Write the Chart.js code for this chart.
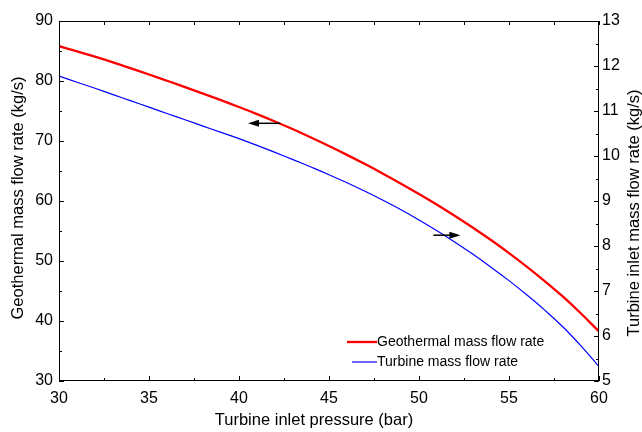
<!DOCTYPE html>
<html lang="en">
<head>
  <meta charset="UTF-8">
  <title>Mass flow rate vs turbine inlet pressure</title>
  <script src="https://cdn.jsdelivr.net/npm/chart.js"></script>
  <style>
    body { margin: 0; background: #fff; }
    .wrap { width: 642px; height: 432px; position: relative; }
  </style>
</head>
<body>
  <div class="wrap"><canvas id="flowChart"></canvas></div>

  <script>
    // turbine inlet pressure (bar)
    const pressure = [30, 31, 32, 33, 34, 35, 36, 37, 38, 39, 40, 41, 42, 43, 44, 45,
                      46, 47, 48, 49, 50, 51, 52, 53, 54, 55, 56, 57, 58, 59, 60];
    // geothermal mass flow rate (kg/s), left axis
    const geothermalFlow = [85.8, 84.95, 84.05, 83.1, 82.1, 81.08, 80.04, 78.98, 77.9, 76.8, 75.67,
                            74.49, 73.25, 71.95, 70.59, 69.17, 67.69, 66.15, 64.55, 62.89, 61.17,
                            59.38, 57.51, 55.55, 53.49, 51.32, 49.03, 46.61, 44.05, 41.25, 38.25];
    // turbine inlet mass flow rate (kg/s), right axis
    const turbineFlow = [11.775, 11.64, 11.505, 11.365, 11.225, 11.085, 10.945, 10.805, 10.665, 10.525, 10.385,
                         10.235, 10.08, 9.92, 9.755, 9.585, 9.405, 9.215, 9.015, 8.805, 8.58,
                         8.34, 8.085, 7.815, 7.53, 7.23, 6.91, 6.57, 6.2, 5.78, 5.32];

    const xTicks = [30, 35, 40, 45, 50, 55, 60];
    const leftTicks = [30, 40, 50, 60, 70, 80, 90];
    const rightTicks = [5, 6, 7, 8, 9, 10, 11, 12, 13];

    // arrows: [x from, x to, value, axis]
    const arrows = [
      [42.3, 40.5, 72.95, 'y'],
      [50.8, 52.3, 8.24, 'y2']
    ];

    const FONT = '"Liberation Sans", Arial, sans-serif';

    const decor = {
      id: 'decor',
      afterDraw(chart) {
        const ctx = chart.ctx;
        const a = chart.chartArea;
        const sx = chart.scales.x, sl = chart.scales.y, sr = chart.scales.y2;
        ctx.save();
        ctx.strokeStyle = '#000';
        ctx.lineWidth = 1;
        ctx.strokeRect(a.left + 0.5, a.top + 0.5, a.right - a.left - 1, a.bottom - a.top - 1);

        ctx.beginPath();
        // inward ticks on all four sides
        for (let v = 30; v <= 60; v += 2.5) {
          const px = Math.round(sx.getPixelForValue(v)) + 0.5;
          const len = v % 5 === 0 ? 5 : 3;
          ctx.moveTo(px, a.bottom); ctx.lineTo(px, a.bottom - len);
          ctx.moveTo(px, a.top); ctx.lineTo(px, a.top + 4);
        }
        for (let v = 30; v <= 90; v += 5) {
          const py = Math.round(sl.getPixelForValue(v)) + 0.5;
          const len = v % 10 === 0 ? 5 : 3;
          ctx.moveTo(a.left, py); ctx.lineTo(a.left + len, py);
        }
        for (let v = 5; v <= 13; v += 0.5) {
          const py = Math.round(sr.getPixelForValue(v)) + 0.5;
          const len = v % 1 === 0 ? 5 : 3;
          ctx.moveTo(a.right, py); ctx.lineTo(a.right - len, py);
        }
        ctx.stroke();

        // arrows
        ctx.fillStyle = '#000';
        ctx.lineWidth = 1.5;
        arrows.forEach(([x0, x1, v, axis]) => {
          const y = chart.scales[axis].getPixelForValue(v);
          const p0 = sx.getPixelForValue(x0), p1 = sx.getPixelForValue(x1);
          const dir = Math.sign(p1 - p0);
          ctx.beginPath();
          ctx.moveTo(p0, y); ctx.lineTo(p1 - dir * 8, y);
          ctx.stroke();
          ctx.beginPath();
          ctx.moveTo(p1, y);
          ctx.lineTo(p1 - dir * 11, y - 3.5);
          ctx.lineTo(p1 - dir * 11, y + 3.5);
          ctx.closePath();
          ctx.fill();
        });

        // axis titles
        ctx.fillStyle = '#000';
        ctx.font = '16.5px ' + FONT;
        ctx.textAlign = 'center';
        ctx.textBaseline = 'middle';
        ctx.fillText('Turbine inlet pressure (bar)', 314, 420);
        ctx.save();
        ctx.translate(18, 198);
        ctx.rotate(-Math.PI / 2);
        ctx.fillText('Geothermal mass flow rate (kg/s)', 0, 0);
        ctx.restore();
        ctx.save();
        ctx.translate(634, 213);
        ctx.rotate(-Math.PI / 2);
        ctx.fillText('Turbine inlet mass flow rate (kg/s)', 0, 0);
        ctx.restore();

        // legend
        ctx.font = '14px ' + FONT;
        ctx.textAlign = 'left';
        chart.data.datasets.forEach((ds, i) => {
          const ly = 342 + i * 20;
          ctx.strokeStyle = ds.borderColor;
          ctx.lineWidth = ds.borderWidth;
          ctx.beginPath();
          ctx.moveTo(347 + i * 5, ly); ctx.lineTo(377, ly);
          ctx.stroke();
          ctx.fillText(ds.label, 377, ly);
        });
        ctx.restore();
      }
    };

    const tickFont = { family: FONT, size: 16 };

    new Chart(document.getElementById('flowChart'), {
      type: 'line',
      data: {
        labels: pressure,
        datasets: [
          {
            label: 'Geothermal mass flow rate',
            data: pressure.map((p, i) => ({ x: p, y: geothermalFlow[i] })),
            borderColor: '#ff0000',
            borderWidth: 2.3,
            pointRadius: 0,
            tension: 0.4,
            yAxisID: 'y'
          },
          {
            label: 'Turbine mass flow rate',
            data: pressure.map((p, i) => ({ x: p, y: turbineFlow[i] })),
            borderColor: '#0000ff',
            borderWidth: 1.2,
            pointRadius: 0,
            tension: 0.4,
            yAxisID: 'y2'
          }
        ]
      },
      options: {
        responsive: true,
        maintainAspectRatio: false,
        animation: false,
        layout: { padding: { top: 21, left: 0, right: 0, bottom: 0 } },
        plugins: { legend: { display: false }, tooltip: { enabled: false } },
        scales: {
          x: {
            type: 'linear', min: 30, max: 60,
            afterFit: s => { s.height = 51; },
            afterBuildTicks: s => { s.ticks = xTicks.map(v => ({ value: v })); },
            grid: { display: false, drawTicks: false },
            border: { display: false },
            ticks: { color: '#000', font: tickFont, padding: 8, maxRotation: 0 }
          },
          y: {
            position: 'left', min: 30, max: 90,
            afterFit: s => { s.width = 59; },
            afterBuildTicks: s => { s.ticks = leftTicks.map(v => ({ value: v })); },
            grid: { display: false, drawTicks: false },
            border: { display: false },
            ticks: { color: '#000', font: tickFont, padding: 6 }
          },
          y2: {
            position: 'right', min: 5, max: 13,
            afterFit: s => { s.width = 43; },
            afterBuildTicks: s => { s.ticks = rightTicks.map(v => ({ value: v })); },
            grid: { display: false, drawTicks: false },
            border: { display: false },
            ticks: { color: '#000', font: tickFont, padding: 3 }
          }
        }
      },
      plugins: [decor]
    });
  </script>
</body>
</html>
